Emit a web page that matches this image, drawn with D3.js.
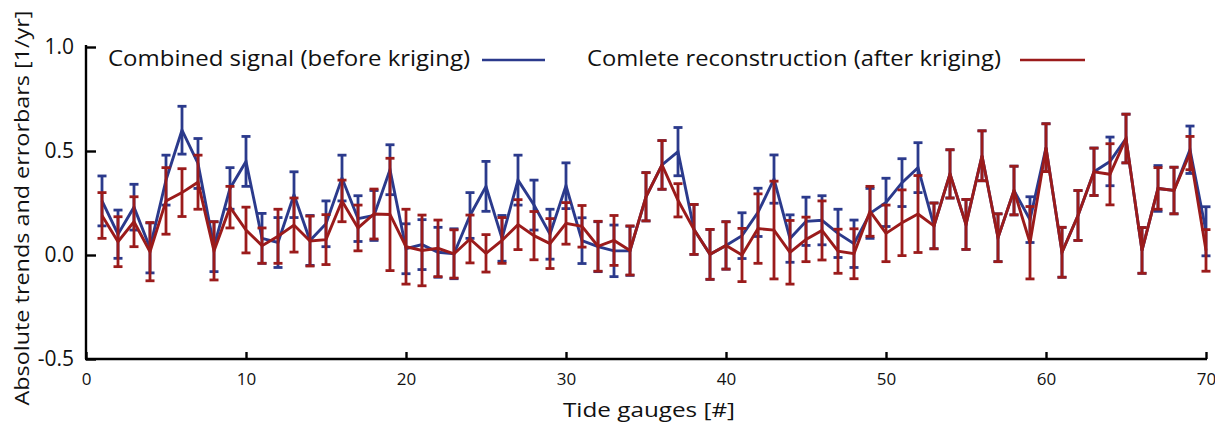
<!DOCTYPE html>
<html>
<head>
<meta charset="utf-8">
<script src="https://cdn.jsdelivr.net/npm/d3@7"></script>
<style>
  body { margin: 0; background: #fff; }
  svg { display: block; }
  text { font-family: "Open Sans", "Noto Sans", sans-serif; fill: #111; }
</style>
</head>
<body>
<svg id="chart" width="1215" height="426"></svg>
<script>
// Tide gauge indices
const gauges = d3.range(1, 71);
// Combined signal (before kriging): trend and error bar half-width
const blueVals = [0.26,0.10,0.23,0.034,0.36,0.60,0.44,0.04,0.32,0.45,
  0.08,0.06,0.29,0.07,0.15,0.37,0.175,0.19,0.41,0.03,
  0.05,0.013,0.006,0.19,0.33,0.08,0.36,0.24,0.10,0.333,
  0.069,0.04,0.02,0.02,0.28,0.433,0.497,0.123,0.003,0.046,
  0.093,0.205,0.365,0.079,0.162,0.167,0.104,0.054,0.20,0.253,
  0.348,0.42,0.14,0.39,0.147,0.477,0.083,0.31,0.17,0.516,
  0.013,0.19,0.40,0.45,0.56,0.022,0.32,0.31,0.506,0.114];
const blueErr = [0.12,0.116,0.11,0.12,0.12,0.115,0.12,0.12,0.10,0.12,
  0.12,0.12,0.11,0.12,0.11,0.11,0.11,0.12,0.12,0.12,
  0.12,0.12,0.12,0.11,0.12,0.11,0.12,0.12,0.12,0.11,
  0.11,0.12,0.124,0.118,0.116,0.117,0.116,0.12,0.12,0.114,
  0.11,0.116,0.116,0.114,0.116,0.118,0.116,0.114,0.12,0.116,
  0.115,0.12,0.11,0.116,0.12,0.12,0.115,0.117,0.11,0.115,
  0.12,0.12,0.114,0.117,0.117,0.11,0.11,0.112,0.114,0.118];
// Complete reconstruction (after kriging)
const redVals = [0.19,0.064,0.16,0.016,0.26,0.30,0.35,0.02,0.23,0.12,
  0.045,0.09,0.144,0.067,0.074,0.26,0.13,0.197,0.195,0.04,
  0.022,0.032,0.005,0.077,0.008,0.07,0.146,0.093,0.055,0.152,
  0.138,0.042,0.07,0.022,0.28,0.433,0.263,0.123,0.003,0.046,
  0.0,0.127,0.12,0.013,0.075,0.118,0.018,0.006,0.21,0.104,
  0.155,0.197,0.14,0.39,0.147,0.477,0.083,0.31,0.059,0.516,
  0.013,0.19,0.40,0.388,0.56,0.022,0.32,0.31,0.49,0.022];
const redErr = [0.11,0.12,0.12,0.14,0.16,0.115,0.13,0.14,0.10,0.11,
  0.085,0.13,0.13,0.12,0.12,0.10,0.11,0.12,0.27,0.18,
  0.17,0.136,0.116,0.115,0.09,0.11,0.12,0.116,0.12,0.10,
  0.10,0.12,0.12,0.118,0.116,0.117,0.08,0.12,0.12,0.114,
  0.128,0.167,0.235,0.153,0.107,0.142,0.106,0.12,0.12,0.136,
  0.158,0.185,0.11,0.116,0.12,0.12,0.115,0.117,0.174,0.115,
  0.12,0.12,0.114,0.147,0.117,0.11,0.10,0.112,0.08,0.10];
const xTicks = [0,10,20,30,40,50,60,70];
const yTicks = [-0.5,0,0.5,1.0];
const seriesNames = ["Combined signal (before kriging)", "Comlete reconstruction (after kriging)"];
const blueColor = "#2b3a8c";
const redColor = "#9b1b1b";

const svg = d3.select("#chart");
const x = d3.scaleLinear().domain([0,70]).range([86,1206]);
const y = d3.scaleLinear().domain([-0.5,1.0]).range([359,47]);

function drawSeries(vals, errs, color) {
  const data = gauges.map((g,i)=>({g, v: vals[i], e: errs[i]}));
  const g = svg.append("g");
  const cap = 4.5;
  data.forEach(d => {
    g.append("line").attr("x1", x(d.g)).attr("x2", x(d.g))
      .attr("y1", y(d.v - d.e)).attr("y2", y(d.v + d.e))
      .attr("stroke", color).attr("stroke-width", 2.8);
    [d.v - d.e, d.v + d.e].forEach(t => {
      g.append("line").attr("x1", x(d.g)-cap).attr("x2", x(d.g)+cap)
        .attr("y1", y(t)).attr("y2", y(t))
        .attr("stroke", color).attr("stroke-width", 2.8);
    });
  });
  g.append("path").datum(data)
    .attr("fill","none").attr("stroke",color).attr("stroke-width",2.9)
    .attr("stroke-linejoin","miter")
    .attr("d", d3.line().x(d=>x(d.g)).y(d=>y(d.v)));
}
drawSeries(blueVals, blueErr, blueColor);
drawSeries(redVals, redErr, redColor);

// Axes
const yAxis = svg.append("g").attr("transform","translate(86,0)")
  .call(d3.axisLeft(y).tickValues(yTicks).tickSizeInner(-10).tickSizeOuter(0).tickPadding(12)
    .tickFormat(d => d.toFixed(1)));
yAxis.select(".domain").attr("stroke","#000").attr("stroke-width",2.4).attr("d","M0,45V359");
yAxis.selectAll(".tick line").attr("stroke","#000").attr("stroke-width",2.4);
yAxis.selectAll(".tick text").attr("font-size",21).attr("fill","#111").attr("dy","0.32em")
  .style("font-family","'Open Sans', sans-serif");

const xAxis = svg.append("g").attr("transform","translate(0,359)")
  .call(d3.axisBottom(x).tickValues(xTicks).tickSizeInner(-7).tickSizeOuter(0).tickPadding(14));
xAxis.select(".domain").attr("stroke","#000").attr("stroke-width",2.4).attr("d","M85,0H1207");
xAxis.selectAll(".tick line").attr("stroke","#000").attr("stroke-width",2.4);
xAxis.selectAll(".tick text").attr("font-size",17).attr("fill","#111")
  .style("font-family","'Open Sans', sans-serif");

// Axis titles
svg.append("text").attr("x", 649).attr("y", 417).attr("text-anchor","middle")
  .attr("font-size", 20).attr("textLength", 172).attr("lengthAdjust","spacingAndGlyphs")
  .text("Tide gauges [#]");
svg.append("text").attr("transform","translate(29,208) rotate(-90)").attr("text-anchor","middle")
  .attr("font-size", 20).attr("textLength", 395).attr("lengthAdjust","spacingAndGlyphs")
  .text("Absolute trends and errorbars [1/yr]");

// Legend
svg.append("text").attr("x",108).attr("y",66).attr("font-size",22)
  .attr("textLength",362).attr("lengthAdjust","spacingAndGlyphs").text(seriesNames[0]);
svg.append("line").attr("x1",482).attr("x2",545).attr("y1",60).attr("y2",60)
  .attr("stroke",blueColor).attr("stroke-width",2.6);
svg.append("text").attr("x",587).attr("y",66).attr("font-size",22)
  .attr("textLength",414).attr("lengthAdjust","spacingAndGlyphs").text(seriesNames[1]);
svg.append("line").attr("x1",1020).attr("x2",1085).attr("y1",60).attr("y2",60)
  .attr("stroke",redColor).attr("stroke-width",2.6);
</script>
</body>
</html>
